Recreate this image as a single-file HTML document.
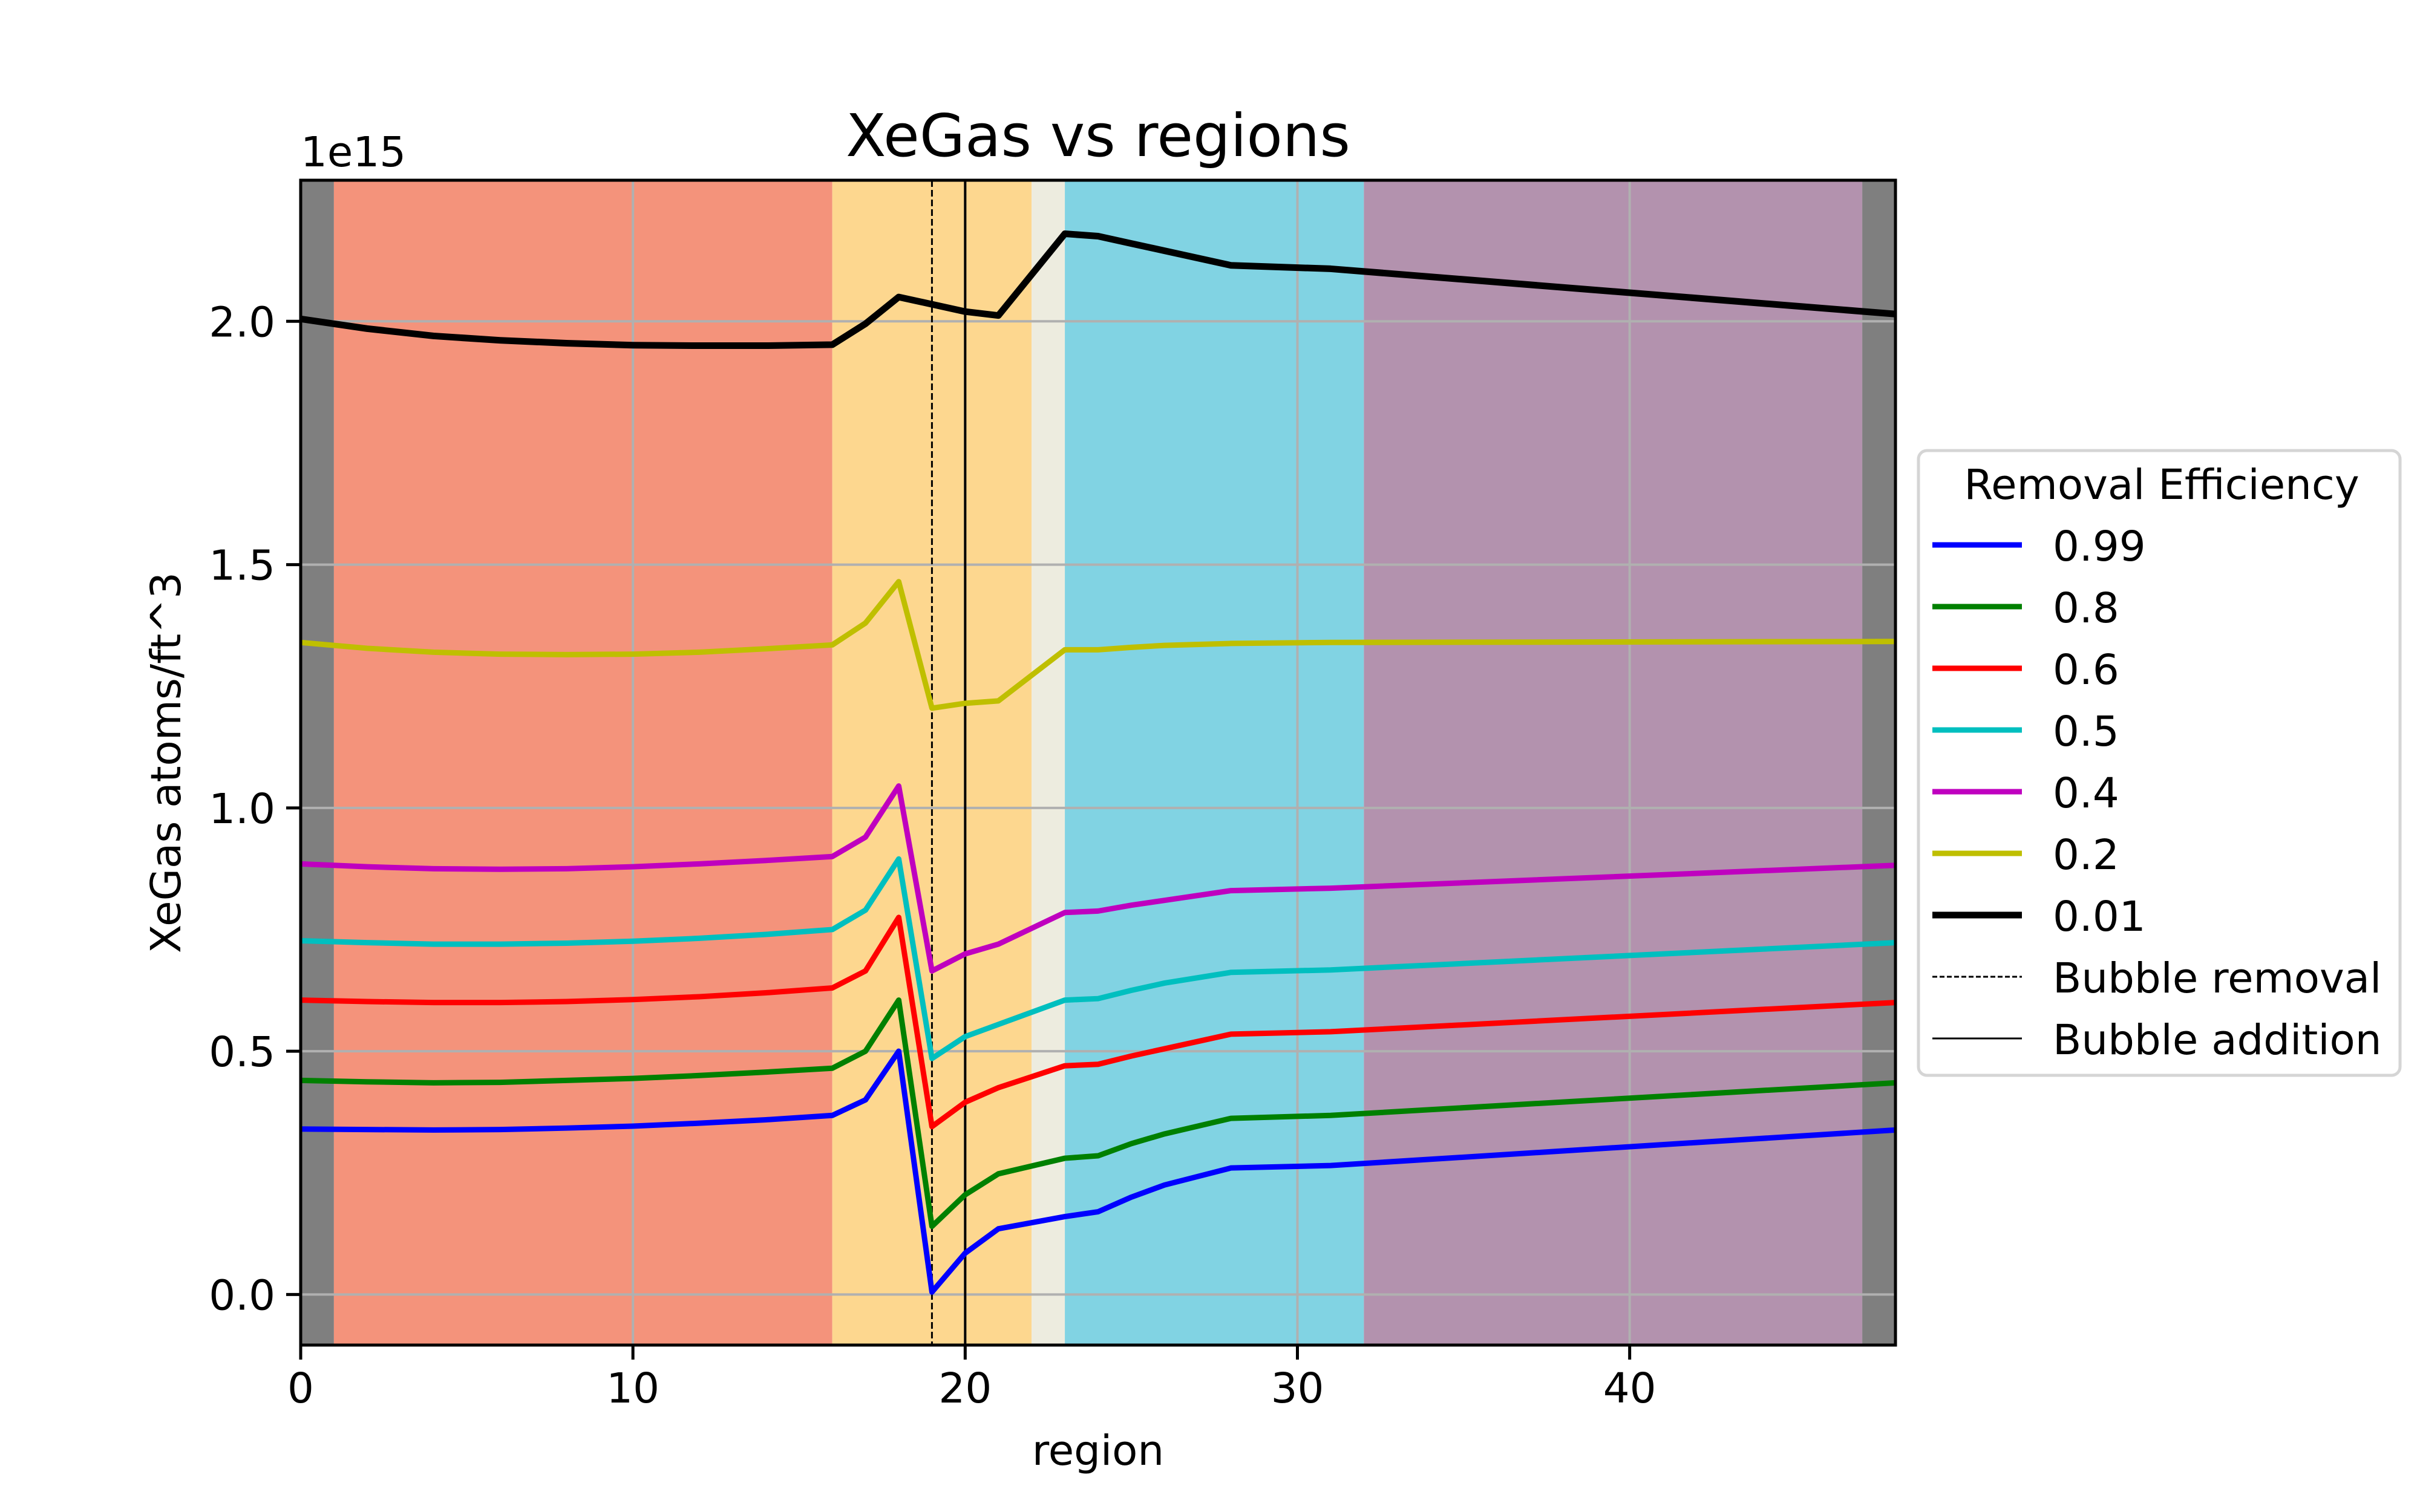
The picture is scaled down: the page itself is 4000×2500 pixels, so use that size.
<!DOCTYPE html>
<html><head><meta charset="utf-8"><style>
html,body{margin:0;padding:0;background:#fff}
svg{display:block;font-family:"DejaVu Sans","Liberation Sans",sans-serif}
</style></head><body>
<svg id="c" width="4000" height="2500" viewBox="0 0 4000 2500" xmlns="http://www.w3.org/2000/svg"></svg>
<script>
const xs=[0,2,4,6,8,10,12,14,16,17,18,19,20,21,23,24,25,26,28,31,48];
const s099=[0.340,0.339,0.338,0.339,0.342,0.346,0.352,0.359,0.368,0.400,0.500,0.005,0.085,0.135,0.160,0.170,0.200,0.225,0.260,0.265,0.338];
const s08=[0.440,0.437,0.435,0.436,0.440,0.444,0.450,0.457,0.465,0.500,0.605,0.140,0.205,0.248,0.280,0.285,0.310,0.330,0.362,0.368,0.435];
const s06=[0.605,0.602,0.600,0.600,0.602,0.606,0.612,0.620,0.630,0.665,0.775,0.345,0.395,0.425,0.470,0.473,0.490,0.505,0.535,0.540,0.600];
const s05=[0.727,0.723,0.720,0.720,0.722,0.726,0.732,0.740,0.750,0.790,0.895,0.485,0.530,0.555,0.605,0.608,0.625,0.640,0.662,0.667,0.723];
const s04=[0.885,0.879,0.875,0.874,0.875,0.879,0.885,0.892,0.900,0.940,1.045,0.665,0.700,0.720,0.785,0.788,0.800,0.810,0.830,0.835,0.882];
const s02=[1.340,1.328,1.320,1.316,1.315,1.316,1.320,1.327,1.335,1.380,1.465,1.205,1.215,1.220,1.325,1.325,1.330,1.334,1.338,1.340,1.342];
const s001=[2.005,1.985,1.970,1.961,1.955,1.951,1.950,1.950,1.952,1.995,2.050,2.035,2.020,2.012,2.180,2.175,2.160,2.145,2.115,2.108,2.015];
const seriesNames=["0.99","0.8","0.6","0.5","0.4","0.2","0.01"];
const seriesVals=[s099,s08,s06,s05,s04,s02,s001];
const seriesColors=["#0000ff","#008000","#ff0000","#00bfbf","#bf00bf","#bfbf00","#000000"];
const spanStarts=[0,1,16,22,23,32,47];
const spanEnds=[1,16,22,23,32,47,48];
const spanColors=["#7f7f7f","#f4937b","#fdd78f","#edecdf","#81d3e3","#b392ae","#7f7f7f"];
const xTicks=[0,10,20,30,40];
const yTicks=[0,0.5,1.0,1.5,2.0];
const yTickLabels=["0.0","0.5","1.0","1.5","2.0"];
const removalX=19, additionX=20;

const L=497,R=3133,T=298,B=2224,X0=0,X1=48,Y0=-0.104,Y1=2.29;
const sx=v=>L+(v-X0)/(X1-X0)*(R-L);
const sy=v=>B-(v-Y0)/(Y1-Y0)*(B-T);
const svg=document.getElementById('c');
const NS="http://www.w3.org/2000/svg";
function mk(tag,attrs,parent){const e=document.createElementNS(NS,tag);for(const k in attrs)e.setAttribute(k,attrs[k]);(parent||svg).appendChild(e);return e;}

spanStarts.forEach((s,i)=>{
  const r=mk('rect',{x:sx(s),y:T,width:sx(spanEnds[i])-sx(s),height:B-T,fill:spanColors[i]});
  
  
});
xTicks.forEach(t=>{
  const g=mk('line',{x1:sx(t),x2:sx(t),y1:T,y2:B,stroke:'#b0b0b0','stroke-width':4});
  
  
});
yTicks.forEach(t=>{
  const g=mk('line',{x1:L,x2:R,y1:sy(t),y2:sy(t),stroke:'#b0b0b0','stroke-width':4});
  
  
});
const vr=mk('line',{x1:sx(removalX),x2:sx(removalX),y1:T,y2:B,stroke:'#000','stroke-width':3,'stroke-dasharray':'11,5'});


const va=mk('line',{x1:sx(additionX),x2:sx(additionX),y1:T,y2:B,stroke:'#000','stroke-width':4});



seriesVals.forEach((vals,i)=>{
  const p=mk('polyline',{points:vals.map((v,j)=>sx(xs[j])+','+sy(v)).join(' '),fill:'none',stroke:seriesColors[i],'stroke-width':i==6?11:9,'stroke-linejoin':'round'});
  
  
});

const fr=mk('rect',{x:L,y:T,width:R-L,height:B-T,fill:'none',stroke:'#000','stroke-width':5});



xTicks.forEach(t=>{
  mk('line',{x1:sx(t),x2:sx(t),y1:B,y2:B+24,stroke:'#000','stroke-width':5});
  const tx=mk('text',{x:sx(t),y:B+95,'font-size':69,'text-anchor':'middle'});
  tx.textContent=t;
  
  
});
yTicks.forEach((t,i)=>{
  mk('line',{x1:L-24,x2:L,y1:sy(t),y2:sy(t),stroke:'#000','stroke-width':5});
  const tx=mk('text',{x:L-42,y:sy(t)+25,'font-size':69,'text-anchor':'end'});
  tx.textContent=yTickLabels[i];
  
  
});
</script>
<script>
(function(){
const svg=document.getElementById('c');const NS="http://www.w3.org/2000/svg";
function mk(tag,attrs){const e=document.createElementNS(NS,tag);for(const k in attrs)e.setAttribute(k,attrs[k]);svg.appendChild(e);return e;}
let t;
t=mk('text',{x:1815,y:258,'font-size':97,'text-anchor':'middle'});t.textContent='XeGas vs regions';


t=mk('text',{x:497,y:275,'font-size':69});t.textContent='1e15';


t=mk('text',{x:1815,y:2422,'font-size':69,'text-anchor':'middle'});t.textContent='region';


t=mk('text',{x:0,y:0,'font-size':69,'text-anchor':'middle',transform:'translate(298,1261) rotate(-90)'});t.textContent='XeGas atoms/ft^3';


const lg=mk('rect',{x:3171,y:745,width:796,height:1033,rx:14,fill:'#fff',stroke:'#d5d5d5','stroke-width':5});


t=mk('text',{x:3573,y:825,'font-size':69,'text-anchor':'middle'});t.textContent='Removal Efficiency';


const names=["0.99","0.8","0.6","0.5","0.4","0.2","0.01","Bubble removal","Bubble addition"];
const cols=["#0000ff","#008000","#ff0000","#00bfbf","#bf00bf","#bfbf00","#000000","#000","#000"];
names.forEach((n,i)=>{
  const y=901+i*102;
  const ln=mk('line',{x1:3194,x2:3342,y1:y,y2:y,stroke:cols[i],'stroke-width':i<6?9:(i==6?11:3)});
  if(i==7)ln.setAttribute('stroke-dasharray','8,4');
  
  
  const tx=mk('text',{x:3393,y:y+26,'font-size':69});tx.textContent=n;
  
  
});
})();
</script>
</body></html>
